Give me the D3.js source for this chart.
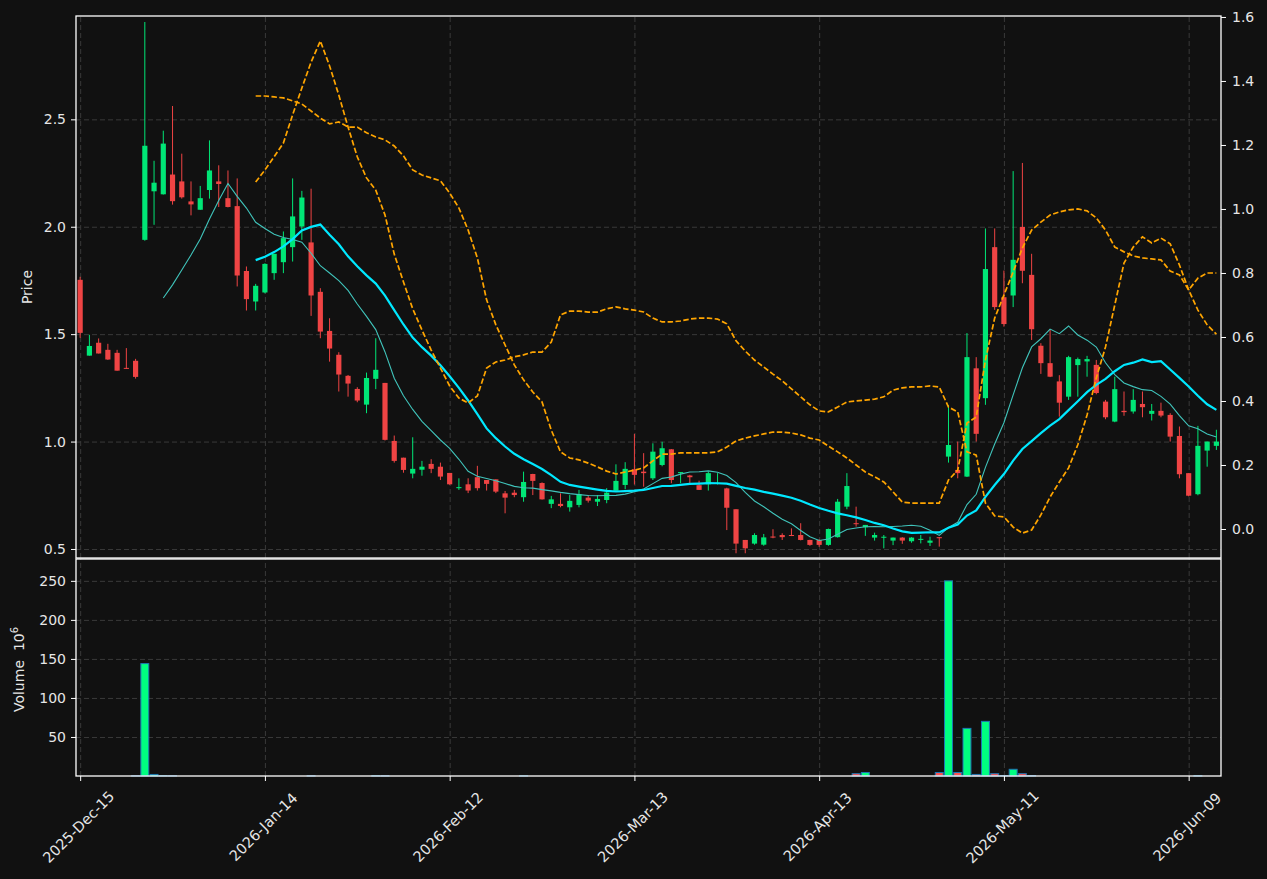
<!DOCTYPE html>
<html>
<head>
<meta charset="utf-8">
<script src="https://cdn.jsdelivr.net/npm/d3@7"></script>
<style>
  body { margin: 0; background: #111111; }
  svg { display: block; font-family: "DejaVu Sans", sans-serif; }
</style>
</head>
<body>
<svg id="chart" width="1267" height="879"></svg>
<script>
// trading days (one candle per row)
const dates = [
  "2025-12-15","2025-12-16","2025-12-17","2025-12-18","2025-12-19","2025-12-22","2025-12-23","2025-12-24","2025-12-26","2025-12-29","2025-12-30","2025-12-31",
  "2026-01-02","2026-01-05","2026-01-06","2026-01-07","2026-01-08","2026-01-09","2026-01-12","2026-01-13","2026-01-14","2026-01-15","2026-01-16","2026-01-20",
  "2026-01-21","2026-01-22","2026-01-23","2026-01-26","2026-01-27","2026-01-28","2026-01-29","2026-01-30",
  "2026-02-02","2026-02-03","2026-02-04","2026-02-05","2026-02-06","2026-02-09","2026-02-10","2026-02-11","2026-02-12","2026-02-13","2026-02-17",
  "2026-02-18","2026-02-19","2026-02-20","2026-02-23","2026-02-24","2026-02-25","2026-02-26","2026-02-27",
  "2026-03-02","2026-03-03","2026-03-04","2026-03-05","2026-03-06","2026-03-09","2026-03-10","2026-03-11","2026-03-12","2026-03-13","2026-03-16",
  "2026-03-17","2026-03-18","2026-03-19","2026-03-20","2026-03-23","2026-03-24","2026-03-25","2026-03-26","2026-03-27","2026-03-30","2026-03-31",
  "2026-04-01","2026-04-02","2026-04-06","2026-04-07","2026-04-08","2026-04-09","2026-04-10","2026-04-13","2026-04-14","2026-04-15","2026-04-16",
  "2026-04-17","2026-04-20","2026-04-21","2026-04-22","2026-04-23","2026-04-24","2026-04-27","2026-04-28","2026-04-29","2026-04-30",
  "2026-05-01","2026-05-04","2026-05-05","2026-05-06","2026-05-07","2026-05-08","2026-05-11","2026-05-12","2026-05-13","2026-05-14","2026-05-15",
  "2026-05-18","2026-05-19","2026-05-20","2026-05-21","2026-05-22","2026-05-26","2026-05-27","2026-05-28","2026-05-29",
  "2026-06-01","2026-06-02","2026-06-03","2026-06-04","2026-06-05","2026-06-08","2026-06-09","2026-06-10","2026-06-11","2026-06-12"
];

const open = [
  1.753,1.400,1.460,1.427,1.413,1.343,1.376,1.939,2.165,2.151,2.243,2.211,2.118,2.079,2.171,2.211,2.133,2.096,1.794,1.652,
  1.694,1.784,1.835,1.905,2.001,1.927,1.697,1.515,1.404,1.306,1.245,1.172,1.292,1.273,1.003,0.925,0.851,0.869,0.896,0.883,
  0.854,0.783,0.801,0.834,0.821,0.824,0.759,0.762,0.741,0.849,0.807,0.710,0.710,0.694,0.705,0.739,0.720,0.728,0.771,0.798,
  0.871,0.860,0.829,0.891,0.964,0.853,0.842,0.797,0.801,0.805,0.782,0.685,0.542,0.525,0.520,0.558,0.565,0.565,0.565,0.542,
  0.542,0.519,0.555,0.697,0.620,0.601,0.553,0.555,0.539,0.553,0.536,0.544,0.529,0.555,0.930,0.868,0.837,1.341,1.202,1.905,
  1.672,1.680,1.999,1.776,1.446,1.365,1.280,1.209,1.356,1.373,1.357,1.186,1.093,1.143,1.140,1.175,1.129,1.143,1.124,1.026,
  0.853,0.755,0.958,0.980
];
const high = [
  1.767,1.497,1.480,1.455,1.427,1.435,1.385,2.953,2.307,2.447,2.562,2.340,2.211,2.190,2.402,2.286,2.262,2.225,1.815,1.734,
  1.830,1.874,1.978,2.225,2.167,2.177,1.714,1.574,1.416,1.310,1.253,1.321,1.481,1.273,1.028,0.925,1.020,0.910,0.918,0.902,
  0.854,0.829,0.829,0.887,0.821,0.824,0.770,0.775,0.860,0.850,0.810,0.747,0.759,0.751,0.775,0.751,0.751,0.783,0.894,0.904,
  1.036,0.946,0.992,0.999,0.965,0.858,0.845,0.818,0.860,0.853,0.785,0.685,0.542,0.573,0.570,0.592,0.573,0.596,0.620,0.543,
  0.545,0.595,0.733,0.853,0.697,0.612,0.576,0.565,0.553,0.555,0.555,0.565,0.557,0.555,1.170,1.000,1.505,1.393,1.992,1.992,
  1.796,2.259,2.297,1.874,1.458,1.523,1.309,1.399,1.391,1.399,1.380,1.194,1.302,1.233,1.244,1.233,1.175,1.181,1.132,1.070,
  0.853,1.073,1.000,1.055
];
const low = [
  1.483,1.400,1.410,1.380,1.330,1.338,1.293,1.935,2.009,2.150,2.103,2.131,2.053,2.079,2.131,2.092,2.090,1.722,1.610,1.610,
  1.690,1.753,1.784,1.838,1.939,1.585,1.481,1.372,1.233,1.209,1.183,1.132,1.244,1.005,0.902,0.855,0.829,0.841,0.853,0.821,
  0.799,0.775,0.760,0.772,0.772,0.760,0.666,0.741,0.720,0.751,0.730,0.690,0.694,0.674,0.694,0.716,0.700,0.713,0.770,0.778,
  0.800,0.790,0.821,0.885,0.806,0.806,0.806,0.775,0.772,0.800,0.588,0.480,0.480,0.520,0.515,0.550,0.542,0.560,0.540,0.515,
  0.510,0.515,0.553,0.685,0.604,0.561,0.539,0.503,0.518,0.524,0.529,0.526,0.514,0.511,0.902,0.829,0.835,1.000,1.171,1.613,
  1.535,1.626,1.737,1.473,1.315,1.300,1.116,1.194,1.209,1.302,1.220,1.104,1.090,1.120,1.130,1.113,1.098,1.113,1.000,0.829,
  0.745,0.750,0.883,0.961
];
const close = [
  1.506,1.445,1.410,1.382,1.330,1.340,1.301,2.377,2.205,2.387,2.119,2.137,2.104,2.133,2.262,2.199,2.092,1.773,1.663,1.725,
  1.827,1.874,1.947,2.048,2.136,1.680,1.512,1.433,1.312,1.270,1.191,1.296,1.334,1.008,0.910,0.868,0.873,0.883,0.873,0.837,
  0.801,0.788,0.772,0.783,0.803,0.767,0.739,0.751,0.812,0.817,0.731,0.731,0.700,0.724,0.756,0.725,0.733,0.762,0.817,0.873,
  0.845,0.853,0.953,0.969,0.821,0.858,0.834,0.775,0.853,0.808,0.692,0.525,0.503,0.565,0.554,0.553,0.555,0.562,0.542,0.519,
  0.519,0.593,0.720,0.793,0.617,0.612,0.565,0.557,0.553,0.539,0.553,0.547,0.539,0.550,0.984,0.853,1.393,1.036,1.803,1.626,
  1.547,1.846,1.795,1.523,1.365,1.302,1.181,1.393,1.384,1.384,1.226,1.113,1.244,1.137,1.194,1.160,1.143,1.121,1.023,0.848,
  0.748,0.980,1.000,1.000
];

// volume in millions (0 = nothing drawn)
const volume = [
  0,0,0,0,0,0,0.3,144,2,0.4,0.3,0,0,0,0,0,0,0,0,0,
  0,0,0,0,0,0.3,0,0,0,0,0,0,0.3,0.3,0,0,0,0,0,0,
  0,0,0,0,0,0,0,0,0.2,0,0,0,0,0,0,0,0,0,0,0,
  0,0,0,0,0,0,0,0,0,0,0,0,0,0,0,0,0,0,0,0,
  0,0,0,0,3,4.5,0,0,0,0,0,0,0,4.5,250,4.5,61,2,70,3,
  0.5,8.6,3,0.5,0,0,0,0,0,0,0,0,0,0,0,0,0,0,0,0,
  0,0.3,0,0
];

// the two dashed orange series (right axis), starting at candle 19
const bandStart = 19;
const orangeA = [
  1.084,1.122,1.163,1.206,1.294,1.378,1.459,1.525,1.447,1.356,1.256,1.163,1.097,1.059,0.981,0.859,0.772,0.688,0.622,0.559,
  0.503,0.447,0.409,0.394,0.416,0.503,0.522,0.528,0.538,0.544,0.553,0.553,0.584,0.669,0.681,0.681,0.678,0.678,0.688,0.694,
  0.688,0.684,0.678,0.659,0.647,0.647,0.650,0.656,0.659,0.659,0.656,0.641,0.588,0.556,0.528,0.506,0.484,0.463,0.438,0.413,
  0.388,0.369,0.366,0.381,0.397,0.400,0.403,0.406,0.413,0.434,0.441,0.444,0.444,0.447,0.444,0.381,0.366,0.241,0.231,0.081,
  0.041,0.038,0.006,-0.013,-0.003,0.044,0.100,0.147,0.191,0.263,0.356,0.472,0.569,0.700,0.831,0.881,0.913,0.894,0.909,0.891,
  0.825,0.747,0.684,0.638,0.609
];
const orangeB = [
  1.353,1.353,1.350,1.347,1.338,1.328,1.306,1.284,1.266,1.272,1.256,1.256,1.238,1.225,1.216,1.197,1.166,1.122,1.106,1.097,
  1.088,1.050,1.003,0.934,0.847,0.716,0.638,0.575,0.513,0.466,0.428,0.397,0.309,0.241,0.222,0.216,0.206,0.194,0.181,0.172,
  0.178,0.184,0.191,0.213,0.234,0.234,0.238,0.238,0.238,0.238,0.241,0.256,0.275,0.284,0.291,0.297,0.303,0.303,0.300,0.294,
  0.284,0.278,0.259,0.241,0.222,0.200,0.178,0.163,0.147,0.116,0.084,0.081,0.081,0.081,0.081,0.153,0.184,0.331,0.350,0.528,
  0.659,0.731,0.803,0.878,0.934,0.959,0.981,0.991,0.997,1.000,0.994,0.972,0.934,0.881,0.866,0.853,0.847,0.844,0.841,0.806,
  0.794,0.747,0.784,0.800,0.800
];

const tickIdx = [0, 20, 40, 60, 80, 100, 120];
const priceTicks = [0.5, 1.0, 1.5, 2.0, 2.5];
const rightTicks = [0.0, 0.2, 0.4, 0.6, 0.8, 1.0, 1.2, 1.4, 1.6];
const volTicks = [50, 100, 150, 200, 250];

// layout
const left = 76, right = 1221;
const pTop = 16, pBot = 558, vTop = 559, vBot = 776;
const upColor = "#00e676", downColor = "#ef4444";
const volUp = "#00ff80", volDown = "#ff5050";
const textColor = "#e6e6e6", gridColor = "#3a3a3a";

const svg = d3.select("#chart");
svg.append("rect").attr("width", 1267).attr("height", 879).attr("fill", "#111111");

const x = d3.scaleLinear().domain([-0.45, 123.5]).range([left, right]);
const step = x(1) - x(0);
const yP = d3.scaleLinear().domain([0.458, 2.981]).range([pBot, pTop]);
const yR = d3.scaleLinear().domain([-0.0906, 1.603]).range([pBot, pTop]);
const yV = d3.scaleLinear().domain([0, 278]).range([vBot, vTop]);

// grids
function grid(g) {
  g.selectAll(".domain").remove();
  g.selectAll("text").remove();
  g.selectAll("line").attr("stroke", gridColor).attr("stroke-dasharray", "5,3");
}
svg.append("g").attr("transform", `translate(${left},0)`)
  .call(d3.axisLeft(yP).tickValues(priceTicks).tickSize(-(right - left))).call(grid);
svg.append("g").attr("transform", `translate(${left},0)`)
  .call(d3.axisLeft(yV).tickValues(volTicks).tickSize(-(right - left))).call(grid);
svg.append("g").attr("transform", `translate(0,${pBot})`)
  .call(d3.axisBottom(x).tickValues(tickIdx).tickSize(-(pBot - pTop))).call(grid);
svg.append("g").attr("transform", `translate(0,${vBot})`)
  .call(d3.axisBottom(x).tickValues(tickIdx).tickSize(-(vBot - vTop))).call(grid);

// candles
const idx = d3.range(close.length);
const bw = step * 0.56;
const candles = svg.append("g");
candles.selectAll("line").data(idx).join("line")
  .attr("x1", i => x(i)).attr("x2", i => x(i))
  .attr("y1", i => yP(high[i])).attr("y2", i => yP(low[i]))
  .attr("stroke", i => close[i] >= open[i] ? upColor : downColor)
  .attr("stroke-width", 1);
candles.selectAll("rect").data(idx).join("rect")
  .attr("x", i => x(i) - bw / 2)
  .attr("width", bw)
  .attr("y", i => yP(Math.max(open[i], close[i])))
  .attr("height", i => Math.max(1, Math.abs(yP(open[i]) - yP(close[i]))))
  .attr("fill", i => close[i] >= open[i] ? upColor : downColor);

// moving averages of the closes
function rolling(arr, n) {
  return arr.map((_, i) => i < n - 1 ? null : d3.mean(arr.slice(i - n + 1, i + 1)));
}
const ma10 = rolling(close, 10);
const ma20 = rolling(close, 20);
const maLine = d3.line().defined(d => d != null).x((d, i) => x(i)).y(d => yP(d));
svg.append("path").attr("d", maLine(ma10)).attr("fill", "none")
  .attr("stroke", "#40c4bb").attr("stroke-width", 1.1);
svg.append("path").attr("d", maLine(ma20)).attr("fill", "none")
  .attr("stroke", "#00e8ff").attr("stroke-width", 2.2);

// orange dashed series on the secondary axis
const bandLine = d3.line().x((d, i) => x(i + bandStart)).y(d => yR(d));
[orangeA, orangeB].forEach(s => {
  svg.append("path").attr("d", bandLine(s)).attr("fill", "none")
    .attr("stroke", "#ffa500").attr("stroke-width", 1.7)
    .attr("stroke-dasharray", "5.5,2.4");
});

// volume bars
const vw = step * 0.86;
svg.append("g").selectAll("rect").data(idx.filter(i => volume[i] > 0)).join("rect")
  .attr("x", i => x(i) - vw / 2)
  .attr("width", vw)
  .attr("y", i => yV(volume[i]))
  .attr("height", i => vBot - yV(volume[i]))
  .attr("fill", i => close[i] >= open[i] ? volUp : volDown)
  .attr("stroke", "#1f77b4").attr("stroke-width", 1);

// axes
function styleAxis(g) {
  g.attr("font-size", 14).attr("font-family", "DejaVu Sans, sans-serif");
  g.selectAll(".domain").remove();
  g.selectAll("line").attr("stroke", "#ffffff");
  g.selectAll("text").attr("fill", textColor);
}
svg.append("g").attr("transform", `translate(${left},0)`)
  .call(d3.axisLeft(yP).tickValues(priceTicks).tickSize(5).tickPadding(5).tickFormat(d3.format(".1f")))
  .call(styleAxis);
svg.append("g").attr("transform", `translate(${right},0)`)
  .call(d3.axisRight(yR).tickValues(rightTicks).tickSize(5).tickPadding(6).tickFormat(d3.format(".1f")))
  .call(styleAxis);
svg.append("g").attr("transform", `translate(${left},0)`)
  .call(d3.axisLeft(yV).tickValues(volTicks).tickSize(5).tickPadding(5).tickFormat(d3.format("d")))
  .call(styleAxis);

const fmt = d3.timeFormat("%Y-%b-%d"), parse = d3.timeParse("%Y-%m-%d");
const xAxis = svg.append("g").attr("transform", `translate(0,${vBot})`)
  .call(d3.axisBottom(x).tickValues(tickIdx).tickSize(5).tickFormat(i => fmt(parse(dates[i]))))
  .call(styleAxis);
xAxis.selectAll("text")
  .attr("y", 0).attr("dy", null)
  .attr("font-size", 14.5)
  .attr("text-anchor", "middle")
  .attr("dominant-baseline", "central")
  .attr("transform", "translate(-2,51) rotate(-45)");

// panel borders
[[pTop, pBot], [vTop, vBot]].forEach(([t, b]) => {
  svg.append("rect").attr("x", left).attr("y", t)
    .attr("width", right - left).attr("height", b - t)
    .attr("fill", "none").attr("stroke", "#ffffff").attr("stroke-width", 1.3);
});

// axis labels
svg.append("text").attr("transform", `translate(32,${(pTop + pBot) / 2}) rotate(-90)`)
  .attr("text-anchor", "middle").attr("fill", textColor).attr("font-size", 14)
  .text("Price");
const vLabel = svg.append("text").attr("transform", `translate(24,${(vTop + vBot) / 2 + 2}) rotate(-90)`)
  .attr("text-anchor", "middle").attr("fill", textColor).attr("font-size", 14);
vLabel.append("tspan").text("Volume\u00a0\u00a010");
vLabel.append("tspan").attr("font-size", 10).attr("dy", -6).text("6");
</script>
</body>
</html>
